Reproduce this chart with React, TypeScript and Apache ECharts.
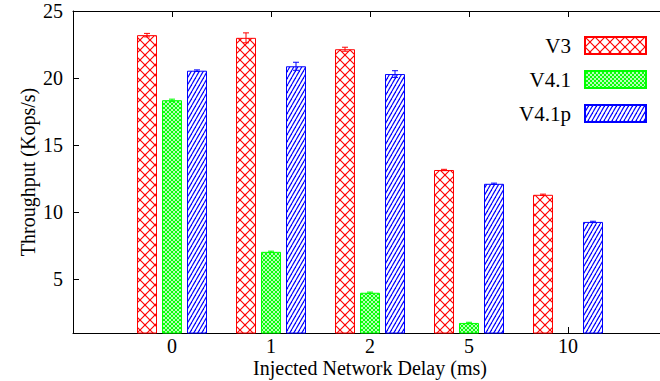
import React, { useEffect, useRef } from "react";
import * as echarts from "echarts";

const CATEGORIES = ["0", "1", "2", "5", "10"];
const SERIES_NAMES = ["V3", "V4.1", "V4.1p"];
const V3 = [23.2, 23.0, 22.15, 13.15, 11.3];
const V41: (number | null)[] = [18.35, 7.05, 4.0, 1.75, null];
const V41P = [20.55, 20.88, 20.3, 12.12, 9.28];
const V3_ERR = [0.13, 0.37, 0.15, 0.05, 0.05];
const V41_ERR: (number | null)[] = [0.08, 0.05, 0.05, 0.05, null];
const V41P_ERR = [0.06, 0.3, 0.25, 0.05, 0.05];
const Y_TICKS = [5, 10, 15, 20, 25];
const X_TICKS = [0, 1, 2, 3, 4];

const FONT = "'Liberation Serif', 'Times New Roman', serif";
const COLORS = ["#ff0000", "#00ff00", "#0000ff"];
const BAR_W = 20;
const BAR_GAP = 5;

function makePattern(w: number, h: number, draw: (ctx: CanvasRenderingContext2D) => void) {
  const c = document.createElement("canvas");
  c.width = w;
  c.height = h;
  const ctx = c.getContext("2d")!;
  ctx.fillStyle = "#ffffff";
  ctx.fillRect(0, 0, w, h);
  draw(ctx);
  return { image: c, repeat: "repeat", imageWidth: w, imageHeight: h } as any;
}

function diagLines(ctx: CanvasRenderingContext2D, w: number, h: number, both: boolean) {
  for (const off of [-w, 0, w]) {
    ctx.beginPath();
    ctx.moveTo(off, h);
    ctx.lineTo(off + w, 0);
    ctx.stroke();
    if (both) {
      ctx.beginPath();
      ctx.moveTo(off, 0);
      ctx.lineTo(off + w, h);
      ctx.stroke();
    }
  }
}

export default function App() {
  const ref = useRef<HTMLDivElement>(null);
  useEffect(() => {
    document.body.style.margin = "0";
    if (!ref.current) return;
    const chart = echarts.init(ref.current, null, { renderer: "svg" });

    const redPat = makePattern(10, 10, (ctx) => {
      ctx.strokeStyle = COLORS[0];
      ctx.lineWidth = 1.2;
      diagLines(ctx, 10, 10, true);
    });
    const greenPat = makePattern(4, 4, (ctx) => {
      ctx.strokeStyle = COLORS[1];
      ctx.lineWidth = 1.1;
      diagLines(ctx, 4, 4, true);
    });
    const bluePat = makePattern(4, 7, (ctx) => {
      ctx.strokeStyle = COLORS[2];
      ctx.lineWidth = 1.2;
      diagLines(ctx, 4, 7, false);
    });
    const patterns = [redPat, greenPat, bluePat];
    const values = [V3, V41, V41P];
    const errs = [V3_ERR, V41_ERR, V41P_ERR];

    const barSeries = SERIES_NAMES.map((name, si) => ({
      name,
      type: "bar",
      xAxisIndex: 0,
      yAxisIndex: 0,
      barWidth: BAR_W,
      barGap: (BAR_GAP / BAR_W) * 100 + "%",
      data: values[si].map((v, i) => [i, v == null ? "-" : v]),
      itemStyle: { color: patterns[si], borderColor: COLORS[si], borderWidth: 1 },
      z: 2,
    }));

    const errSeries = SERIES_NAMES.map((name, si) => ({
      name: name + " err",
      type: "custom",
      xAxisIndex: 0,
      yAxisIndex: 0,
      z: 5,
      data: values[si]
        .map((v, i) => (v == null || errs[si][i] == null ? null : [i, v, errs[si][i]]))
        .filter((d) => d != null),
      encode: { x: 0, y: 1 },
      renderItem: (params: any, api: any) => {
        const x = api.value(0);
        const y = api.value(1);
        const e = api.value(2);
        const top = api.coord([x, y + e]);
        const bot = api.coord([x, y - e]);
        const cx = top[0] + (si - 1) * (BAR_W + BAR_GAP);
        const style = { stroke: COLORS[si], lineWidth: 1 };
        return {
          type: "group",
          children: [
            { type: "line", shape: { x1: cx, y1: top[1], x2: cx, y2: bot[1] }, style },
            { type: "line", shape: { x1: cx - 3, y1: top[1], x2: cx + 3, y2: top[1] }, style },
            { type: "line", shape: { x1: cx - 3, y1: bot[1], x2: cx + 3, y2: bot[1] }, style },
          ],
        };
      },
    }));

    const xCommon = {
      type: "value",
      min: -1,
      max: 5,
      interval: 1,
      splitLine: { show: false },
      axisLine: { show: true, onZero: false, lineStyle: { color: "#000", width: 1 } },
      axisTick: { show: true, inside: true, length: 6, customValues: X_TICKS, lineStyle: { color: "#000" } },
    };

    chart.setOption({
      animation: false,
      textStyle: { fontFamily: FONT },
      grid: {
        left: 73,
        top: 11,
        right: -7,
        bottom: 48,
        containLabel: false,
        outerBoundsMode: "none",
      },
      legend: {
        data: SERIES_NAMES,
        orient: "vertical",
        right: 13,
        top: 35,
        padding: 0,
        align: "right",
        icon: "rect",
        itemWidth: 61,
        itemHeight: 17,
        itemGap: 13,
        textStyle: { fontFamily: FONT, fontSize: 21, color: "#000", lineHeight: 17, padding: [0, 9, 0, 0] },
      },
      xAxis: [
        {
          ...xCommon,
          position: "bottom",
          name: "Injected Network Delay (ms)",
          nameLocation: "middle",
          nameGap: 27,
          nameMoveOverlap: false,
          nameTextStyle: { fontFamily: FONT, fontSize: 20, lineHeight: 16, color: "#000" },
          axisLabel: {
            show: true,
            customValues: X_TICKS,
            margin: 5,
            fontFamily: FONT,
            fontSize: 20,
            lineHeight: 16,
            color: "#000",
            formatter: (v: number) => CATEGORIES[v] ?? "",
          },
        },
        {
          ...xCommon,
          position: "top",
          axisLabel: { show: false },
        },
      ],
      yAxis: {
        type: "value",
        min: 1,
        max: 25,
        name: "Throughput (Kops/s)",
        nameLocation: "middle",
        nameGap: 35,
        nameMoveOverlap: false,
        nameTextStyle: { fontFamily: FONT, fontSize: 20, color: "#000" },
        splitLine: { show: false },
        axisLine: { show: true, onZero: false, lineStyle: { color: "#000", width: 1 } },
        axisTick: { show: true, inside: true, length: 6, customValues: Y_TICKS, lineStyle: { color: "#000" } },
        axisLabel: {
          customValues: Y_TICKS,
          margin: 10,
          fontFamily: FONT,
          fontSize: 20,
          color: "#000",
        },
      },
      series: [...barSeries, ...errSeries],
    } as any);

    return () => chart.dispose();
  }, []);

  return <div ref={ref} style={{ width: 660, height: 381 }} />;
}
